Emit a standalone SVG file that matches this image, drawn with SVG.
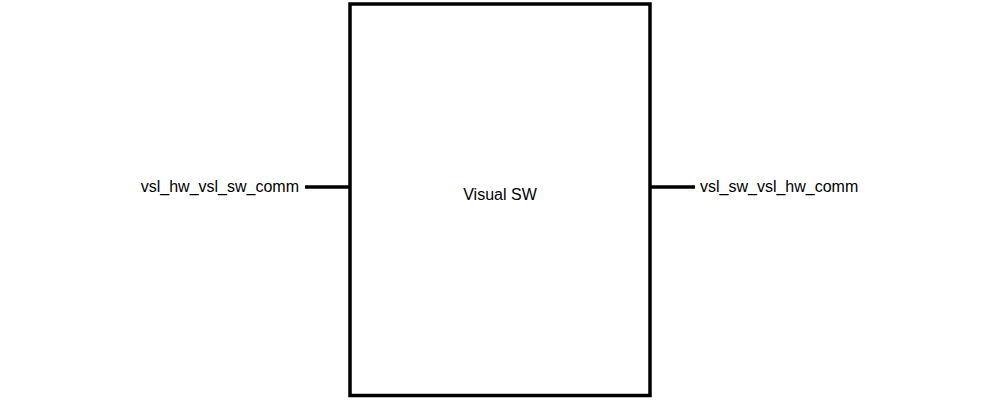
<svg xmlns="http://www.w3.org/2000/svg" width="1000" height="400" viewBox="0 0 1000 400">
<style>
.box{fill:#fff;stroke:#000;stroke-width:3.5}
.port{stroke:#000;stroke-width:3.5;fill:none}
text{font-family:"Liberation Sans",Arial,sans-serif;font-size:16px;fill:#000}
</style>
<rect width="1000" height="400" fill="#fff"/>
<g id="visual_sw">
<rect class="box" x="350" y="4" width="300" height="391.5"/>
<text x="500" y="200" text-anchor="middle">Visual SW</text>
</g>
<g id="connectors">
<line class="port" x1="305" y1="187" x2="350" y2="187"/>
<line class="port" x1="650" y1="187" x2="695" y2="187"/>
</g>
<g id="port_in">
<text x="299" y="192" text-anchor="end">vsl_hw_vsl_sw_comm</text>
</g>
<g id="port_out">
<text x="700" y="192">vsl_sw_vsl_hw_comm</text>
</g>
</svg>
